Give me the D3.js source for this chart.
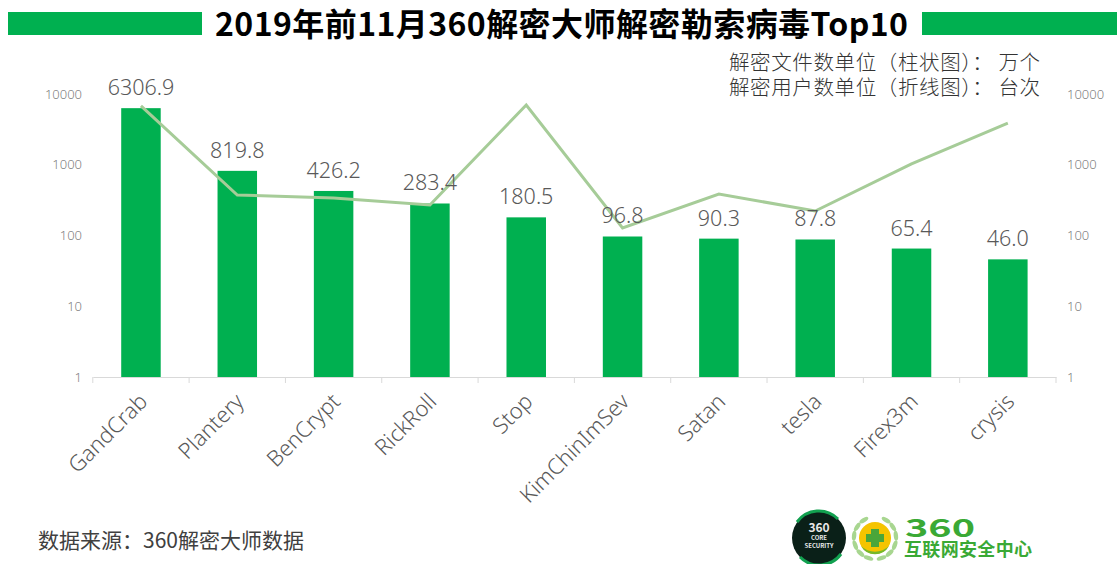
<!DOCTYPE html>
<html><head><meta charset="utf-8">
<script src="https://cdn.jsdelivr.net/npm/d3@7/dist/d3.min.js"></script>
<style>html,body{margin:0;padding:0;background:#fff}svg{display:block}text{font-family:"Noto Sans CJK SC","Noto Sans",sans-serif}</style>
</head><body><svg id="c" width="1117" height="564"></svg>
<script>
const categories=["GandCrab","Plantery","BenCrypt","RickRoll","Stop","KimChinImSev","Satan","tesla","Firex3m","crysis"];
const fileCounts=[6306.9,819.8,426.2,283.4,180.5,96.8,90.3,87.8,65.4,46.0];
const fileLabels=["6306.9","819.8","426.2","283.4","180.5","96.8","90.3","87.8","65.4","46.0"];
const userCounts=[6800,373,340,270,7000,128,386,222,1030,3890];
const yTicks=[1,10,100,1000,10000];
const titleText="2019年前11月360解密大师解密勒索病毒Top10";
const unitLines=["解密文件数单位（柱状图）： 万个","解密用户数单位（折线图）： 台次"];
const sourceText="数据来源：360解密大师数据";

const svg=d3.select("#c");
const GREEN="#00b050",LINE="#a6cc98",GREY="#595959";
const LIGHT='"Noto Sans","Noto Sans CJK SC",sans-serif';
const x=d3.scaleBand().domain(categories).range([92.8,1056]);
const y=d3.scaleLog().domain([1,10000]).range([377,94]);

// title
svg.append("rect").attr("x",8).attr("y",12).attr("width",194).attr("height",23).attr("fill",GREEN);
svg.append("rect").attr("x",922).attr("y",12).attr("width",195).attr("height",23).attr("fill",GREEN);
svg.append("text").attr("x",215).attr("y",36).attr("font-size",32).attr("font-weight",700).attr("fill","#000").attr("textLength",693).text(titleText);
unitLines.forEach((t,i)=>svg.append("text").attr("x",729).attr("y",70+i*25).attr("font-size",20.5).attr("font-weight",300).attr("fill","#333").attr("textLength",311).text(t));

// bars
const barW=39.5;
svg.selectAll("rect.bar").data(categories).join("rect").attr("class","bar")
  .attr("x",d=>x(d)+x.bandwidth()/2-barW/2).attr("width",barW)
  .attr("y",(d,i)=>y(fileCounts[i])).attr("height",(d,i)=>y(1)-y(fileCounts[i])).attr("fill",GREEN);

// axes
const ax=svg.append("g").attr("transform","translate(0,377)").call(d3.axisBottom(x).tickSize(0).tickFormat(""));
ax.select(".domain").attr("stroke","#d9d9d9").attr("stroke-width",1);
ax.selectAll(".tick").remove();
const edges=d3.range(categories.length+1).map(i=>x.range()[0]+i*x.step());
svg.selectAll("line.t").data(edges).join("line").attr("class","t").attr("x1",d=>d).attr("x2",d=>d).attr("y1",377).attr("y2",383).attr("stroke","#d9d9d9");
categories.forEach(c=>{
  const cx=x(c)+x.bandwidth()/2;
  svg.append("text").attr("transform",`translate(${cx-3},${392}) rotate(-45)`).attr("text-anchor","end").attr("dy","0.7em").attr("font-size",22).attr("font-weight",300).style("font-family",LIGHT).attr("fill",GREY).text(c);
});
const left=svg.append("g").attr("transform","translate(82,0)").call(d3.axisLeft(y).tickValues(yTicks).tickSize(0).tickFormat(d3.format("d")));
const right=svg.append("g").attr("transform","translate(1067,0)").call(d3.axisRight(y).tickValues(yTicks).tickSize(0).tickFormat(d3.format("d")));
[left,right].forEach(g=>{g.select(".domain").remove();g.selectAll("text").attr("font-size",13).attr("font-weight",300).attr("fill","#7f7f7f").style("font-family",LIGHT);});
left.selectAll("text").attr("x",0);right.selectAll("text").attr("x",0);

// line
const ln=d3.line().x((d,i)=>x(categories[i])+x.bandwidth()/2).y(d=>y(d));
svg.append("path").attr("d",ln(userCounts)).attr("fill","none").attr("stroke",LINE).attr("stroke-width",3);

// labels
svg.selectAll("text.v").data(fileLabels).join("text").attr("class","v")
  .attr("x",(d,i)=>x(categories[i])+x.bandwidth()/2).attr("y",(d,i)=>y(fileCounts[i])-13)
  .attr("text-anchor","middle").attr("font-size",21.5).attr("font-weight",300).style("font-family",LIGHT).attr("fill",GREY).text(d=>d);

svg.append("text").attr("x",38).attr("y",548).attr("font-size",21).attr("fill","#404040").text(sourceText);

// logos
const logo=svg.append("g");
logo.append("circle").attr("cx",819).attr("cy",538).attr("r",27).attr("fill","#0a2018");
logo.append("path").attr("d","M797 522A27 27 0 0 1 838 519").attr("fill","none").attr("stroke","#12a150").attr("stroke-width",3);
logo.append("path").attr("d","M841 554A27 27 0 0 1 800 557").attr("fill","none").attr("stroke","#12a150").attr("stroke-width",3);
[["360",532,12],["CORE",540,6],["SECURITY",548,6]].forEach(a=>logo.append("text").attr("x",819).attr("y",a[1]).attr("text-anchor","middle").attr("font-size",a[2]).attr("font-weight",700).attr("fill","#e8e8e8").text(a[0]));
// laurel
[-1,1].forEach(s=>{
  for(let k=0;k<6;k++){
    const a=(-58+k*26)*Math.PI/180, r=21;
    const lx=875+s*r*Math.cos(a), ly=538+r*Math.sin(a);
    logo.append("ellipse").attr("cx",lx).attr("cy",ly).attr("rx",2.2).attr("ry",5)
      .attr("transform",`rotate(${s*(a*180/Math.PI)} ${lx} ${ly})`).attr("fill","#a8d690");
  }
});
logo.append("circle").attr("cx",875).attr("cy",538).attr("r",16).attr("fill","#f5c400");
logo.append("path").attr("d","M861 546A16 16 0 0 0 889 546A20 20 0 0 1 861 546Z").attr("fill","#76b82a");
logo.append("path").attr("d","M871 529h8v5h5v8h-5v5h-8v-5h-5v-8h5z").attr("fill","#4aa63a");
logo.append("text").attr("x",905).attr("y",537).attr("font-size",25).attr("font-weight",700).attr("fill","#3aa935").attr("textLength",70).attr("lengthAdjust","spacingAndGlyphs").text("360");
logo.append("text").attr("x",904).attr("y",556).attr("font-size",18).attr("font-weight",700).attr("fill","#3aa935").attr("textLength",128).text("互联网安全中心");
</script></body></html>
